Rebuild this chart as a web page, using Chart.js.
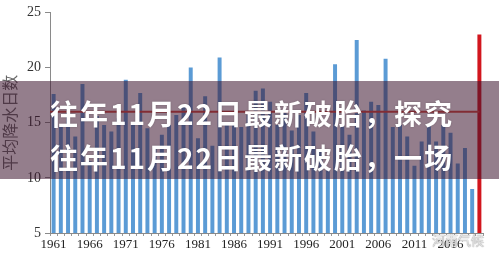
<!DOCTYPE html>
<html><head><meta charset="utf-8">
<script src="https://cdn.jsdelivr.net/npm/chart.js@4"></script>
<style>
html,body{margin:0;padding:0;background:#fff;}
#wrap{position:relative;width:499px;height:261px;overflow:hidden;}
#band{position:absolute;left:0;top:81px;width:499px;height:98px;background:rgba(60,20,45,0.55);}
.ttl{position:absolute;left:50px;color:#fff;font-family:"Noto Sans CJK SC","Noto Sans",sans-serif;font-weight:bold;font-size:28px;letter-spacing:2px;line-height:30px;white-space:nowrap;text-shadow:0 0 2px rgba(0,0,0,0.25);}
#wm{position:absolute;left:432px;top:230px;font-family:"Noto Sans CJK SC",sans-serif;font-size:13px;color:#e6e6e6;text-shadow:0 0 1px #999,0 0 1px #999;}
</style></head>
<body><div id="wrap"><canvas id="c" width="499" height="261"></canvas>
<div id="band"></div>
<div class="ttl" style="top:98px">往年11月22日最新破胎，探究</div>
<div class="ttl" style="top:142px">往年11月22日最新破胎，一场</div>
<div id="wm">河南气候</div>
</div>
<script>
const years = [];
for (let y = 1961; y <= 2020; y++) years.push(String(y));
const rainDays = [
 17.6,14.7,16.2,13.75,18.5,11.5,15.6,14.8,14.2,15.4,
 18.9,14.8,17.7,14.5,12.7,13.9,14.8,15.7,16.5,20.0,
 13.6,17.4,12.9,20.9,15.0,14.8,14.6,15.7,17.9,18.1,
 16.9,14.8,15.9,14.3,15.7,17.7,14.2,12.4,10.7,20.3,
 14.8,13.9,22.5,16.1,16.9,16.6,20.8,14.6,14.8,13.75,
 11.1,13.3,14.8,13.3,14.8,14.1,11.3,12.7,9.0,23.0
];
const avgValue = 16.0;
const yTicks = [5,10,15,20,25];
const blue = 'rgb(91,155,213)', red = 'rgb(210,22,30)';
const colors = years.map((y,i)=> i===years.length-1 ? red : blue);

const avgPlugin = {
  id:'avg',
  afterDatasetsDraw(chart){
    const {ctx, scales:{x,y}} = chart;
    const py = y.getPixelForValue(avgValue);
    const x0 = chart.chartArea.left;
    const x1 = x.getPixelForValue(years.length-1);
    ctx.save();
    ctx.strokeStyle='rgb(215,75,60)';
    ctx.lineWidth=2;
    ctx.beginPath();ctx.moveTo(x0,py);ctx.lineTo(x1,py);ctx.stroke();
    ctx.restore();
  }
};

new Chart(document.getElementById('c'),{
  type:'bar',
  data:{labels:years,datasets:[{data:rainDays,backgroundColor:colors,categoryPercentage:1,barPercentage:0.55}]},
  options:{
    responsive:false,animation:false,
    layout:{padding:{top:6,right:16,left:0,bottom:0}},
    plugins:{legend:{display:false},tooltip:{enabled:false}},
    scales:{
      x:{
        grid:{display:true,drawOnChartArea:false,tickLength:3,color:'#999'},
        border:{color:'#8a8a8a'},
        ticks:{autoSkip:false,maxRotation:0,minRotation:0,padding:1,color:'#222',
          font:{family:'"Liberation Serif","DejaVu Serif",serif',size:13},
          callback:(v,i)=> i%5===0 ? years[i] : ''},
        afterFit:s=>{s.height=28;}
      },
      y:{
        min:5,max:25,
        afterBuildTicks:s=>{s.ticks=yTicks.map(v=>({value:v}));},
        grid:{display:true,drawOnChartArea:false,tickLength:5,color:'#8a8a8a'},
        border:{color:'#8a8a8a'},
        ticks:{padding:4,color:'#333',font:{family:'"Liberation Serif","DejaVu Serif",serif',size:14}},
        title:{display:true,text:'平均降水日数',color:'#666',padding:0,
          font:{family:'"Noto Sans CJK SC",sans-serif',size:16}},
        afterFit:s=>{s.width=50;}
      }
    }
  },
  plugins:[avgPlugin]
});
</script></body></html>
